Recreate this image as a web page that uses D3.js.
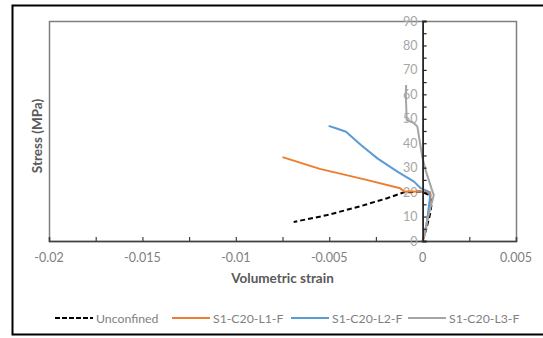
<!DOCTYPE html>
<html><head><meta charset="utf-8">
<script src="https://cdn.jsdelivr.net/npm/d3@7"></script>
<style>body{margin:0;background:#fff}svg{display:block;font-family:Lato,"Open Sans",sans-serif}</style>
</head><body><svg id="c" width="543" height="338"></svg>
<script>
const xTicks = [-0.02, -0.015, -0.01, -0.005, 0, 0.005];
const xTickLabels = ["-0.02", "-0.015", "-0.01", "-0.005", "0", "0.005"];
const yTicks = [0, 10, 20, 30, 40, 50, 60, 70, 80, 90];
const seriesNames = ["Unconfined", "S1-C20-L1-F", "S1-C20-L2-F", "S1-C20-L3-F"];
const unconfinedX = [0, 0.0002, 0.0004, 0.0005, 0.0003, -0.0001, -0.001, -0.0019, -0.0033, -0.0051, -0.0069];
const unconfinedY = [0, 5, 11, 16, 19, 20.2, 19.9, 17.5, 14.3, 10.6, 7.8];
const l1X = [0, 0.0001, 0.0002, 0.0004, 0.00043, 0.0004, -0.0005, -0.001, -0.0012, -0.003, -0.0055, -0.0075];
const l1Y = [0, 2, 6, 15, 18.8, 20, 20.2, 20.3, 21.6, 25, 29.5, 34.3];
const l2X = [0, 0.0002, 0.0003, 0.0004, 0.0003, -0.0001, -0.00046, -0.00135, -0.00242, -0.0033, -0.0041, -0.0046, -0.00503];
const l2Y = [0, 6, 12, 18, 20.3, 21.6, 24.3, 28.4, 33.8, 39.3, 44.7, 46, 47.1];
const l3X = [0, 0.0001, 0.00025, 0.0005, 0.0006, 0.0005, 0.00016, -0.00002, -0.00028, -0.00046, -0.00085, -0.0009, -0.00088];
const l3Y = [0, 3, 8.6, 16, 18.8, 20.9, 29, 34.5, 46.8, 48.2, 49.5, 60, 63.8];

const colors = ["#000000", "#ED7D31", "#5B9BD5", "#A5A5A5"];
const dashes = ["5,3", null, null, null];
const series = [[unconfinedX, unconfinedY], [l1X, l1Y], [l2X, l2Y], [l3X, l3Y]];

const svg = d3.select("#c");
const L = 49, R = 516, T = 21, B = 241;
const x = d3.scaleLinear().domain([-0.02, 0.005]).range([L, R]);
const y = d3.scaleLinear().domain([0, 90]).range([B, T]);

svg.append("rect").attr("x", 12.5).attr("y", 5.5).attr("width", 545).attr("height", 329)
  .attr("fill", "none").attr("stroke", "#000").attr("stroke-width", 2);
svg.append("rect").attr("x", L + 0.5).attr("y", T + 0.5).attr("width", R - L).attr("height", B - T)
  .attr("fill", "none").attr("stroke", "#7f7f7f").attr("stroke-width", 1.5);

const xMinor = d3.range(-0.02, 0.0051, 0.0025);
const xa = svg.append("g").attr("transform", `translate(0,${B})`)
  .call(d3.axisBottom(x).tickValues(xMinor).tickSize(-4).tickFormat(""));
xa.select(".domain").attr("stroke", "#404040").attr("stroke-width", 1.5);
xa.selectAll(".tick line").attr("stroke", "#404040").attr("stroke-width", 1.2);
svg.append("g").selectAll("text").data(xTicks).join("text")
  .attr("x", d => x(d)).attr("y", 262).attr("text-anchor", "middle")
  .attr("font-size", 12.5).attr("fill", "#7f7f7f")
  .text((d, i) => xTickLabels[i]);

const yMinor = d3.range(0, 90.1, 5);
const ya = svg.append("g").attr("transform", `translate(${x(0)},0)`)
  .call(d3.axisRight(y).tickValues(yMinor).tickSize(4).tickFormat(""));
ya.select(".domain").attr("stroke", "#262626").attr("stroke-width", 1.8);
ya.selectAll(".tick line").attr("stroke", "#262626").attr("stroke-width", 1.2);
svg.append("g").selectAll("text").data(yTicks).join("text")
  .attr("x", x(0) - 5).attr("y", d => y(d) + 4.5).attr("text-anchor", "end")
  .attr("font-size", 12.5).attr("fill", "#a6a6a6").text(d => d);

const lineL = d3.line().x(d => x(d[0])).y(d => y(d[1]));
series.forEach((s, i) => {
  const pts = s[0].map((v, k) => [v, s[1][k]]);
  const p = svg.append("path").datum(pts).attr("d", lineL)
    .attr("fill", "none").attr("stroke", colors[i]).attr("stroke-width", 2)
    .attr("stroke-linejoin", "round");
  if (dashes[i]) p.attr("stroke-dasharray", dashes[i]);
});
svg.node().appendChild(ya.node());

svg.append("text").attr("x", (L + R) / 2).attr("y", 283).attr("text-anchor", "middle")
  .attr("font-size", 13.5).attr("font-weight", "bold").attr("fill", "#595959").text("Volumetric strain");
svg.append("text").attr("transform", `translate(42,${(T + B) / 2 + 5}) rotate(-90)`)
  .attr("text-anchor", "middle").attr("font-size", 13.5).attr("font-weight", "bold")
  .attr("fill", "#595959").text("Stress (MPa)");

const legX = [55, 172, 291, 408];
const lg = svg.append("g");
seriesNames.forEach((n, i) => {
  const l = lg.append("line").attr("x1", legX[i]).attr("x2", legX[i] + 38).attr("y1", 318).attr("y2", 318)
    .attr("stroke", colors[i]).attr("stroke-width", 2);
  if (dashes[i]) l.attr("stroke-dasharray", "5,2");
  lg.append("text").attr("x", legX[i] + 41).attr("y", 322.5).attr("font-size", 12.3)
    .attr("fill", "#7f7f7f").text(n);
});
</script></body></html>
